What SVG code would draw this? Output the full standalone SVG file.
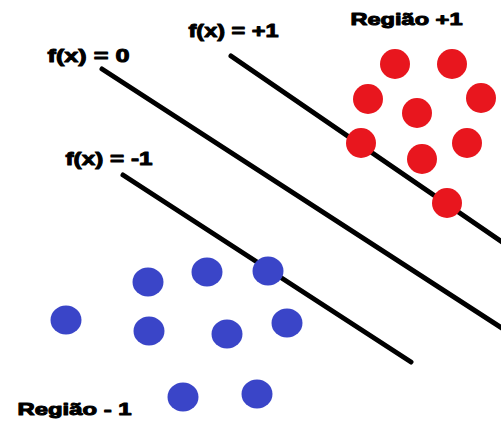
<svg xmlns="http://www.w3.org/2000/svg" width="501" height="423" viewBox="0 0 501 423">
<style>
.ln{stroke:#000;stroke-width:5;stroke-linecap:round;fill:none}
.t{font-family:"Liberation Sans",Arial,sans-serif;font-weight:bold;fill:#000;stroke:#000;stroke-width:1;stroke-linejoin:round}
.r{fill:#e8161e}
.b{fill:#3a45c8}
</style>
<rect width="501" height="423" fill="#fff"/>
<g id="connectors">
<line class="ln" x1="102" y1="69" x2="505" y2="330"/>
<line class="ln" x1="231" y1="56" x2="505" y2="244"/>
<line class="ln" x1="123" y1="175" x2="411" y2="362"/>
</g>
<g id="labels">
<text id="f0" class="t" x="47.5" y="62" font-size="19" textLength="82" lengthAdjust="spacingAndGlyphs">f(x) = 0</text>
<text id="fp1" class="t" x="188.5" y="37" font-size="19" textLength="90" lengthAdjust="spacingAndGlyphs">f(x) = +1</text>
<text id="fm1" class="t" x="65.5" y="165" font-size="19" textLength="87" lengthAdjust="spacingAndGlyphs">f(x) = -1</text>
<text id="rp" class="t" x="350.5" y="25" font-size="17" textLength="112" lengthAdjust="spacingAndGlyphs">Região +1</text>
<text id="rm" class="t" x="17.5" y="415" font-size="17" textLength="114" lengthAdjust="spacingAndGlyphs">Região - 1</text>
</g>
<g id="red">
<circle class="r" cx="395" cy="64" r="15"/>
<circle class="r" cx="452" cy="64" r="15"/>
<circle class="r" cx="368" cy="99" r="15"/>
<circle class="r" cx="481" cy="98" r="15"/>
<circle class="r" cx="417" cy="113" r="15"/>
<circle class="r" cx="361" cy="143" r="15"/>
<circle class="r" cx="467" cy="143" r="15"/>
<circle class="r" cx="422" cy="159" r="15"/>
<circle class="r" cx="447" cy="203" r="15"/>
</g>
<g id="blue">
<ellipse class="b" cx="148" cy="282" rx="15.5" ry="14.5"/>
<ellipse class="b" cx="207" cy="272" rx="15.5" ry="14.5"/>
<ellipse class="b" cx="268" cy="271" rx="15.5" ry="14.5"/>
<ellipse class="b" cx="66" cy="320" rx="15.5" ry="14.5"/>
<ellipse class="b" cx="149" cy="331" rx="15.5" ry="14.5"/>
<ellipse class="b" cx="227" cy="334" rx="15.5" ry="14.5"/>
<ellipse class="b" cx="287" cy="323" rx="15.5" ry="14.5"/>
<ellipse class="b" cx="183" cy="397" rx="15.5" ry="14.5"/>
<ellipse class="b" cx="257" cy="394" rx="15.5" ry="14.5"/>
</g>
</svg>
